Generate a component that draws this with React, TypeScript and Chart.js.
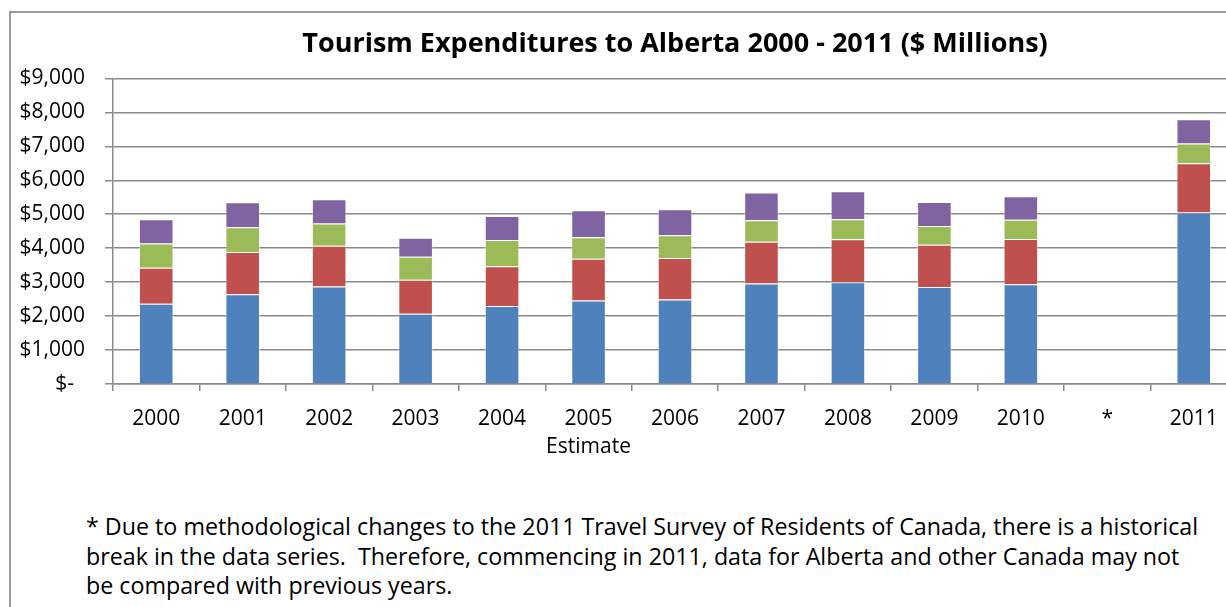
import React, { useEffect, useRef } from 'react';
import { Chart, registerables } from 'chart.js';

Chart.register(...registerables);

const titleText = 'Tourism Expenditures to Alberta 2000 - 2011 ($ Millions)';

const categories: (string | string[])[] = [
  '2000', '2001', '2002', '2003', '2004', ['2005', 'Estimate'], '2006',
  '2007', '2008', '2009', '2010', '*', '2011',
];

const alberta = [2360, 2640, 2870, 2070, 2300, 2460, 2490, 2960, 3000, 2860, 2940, null, 5050];
const otherCanada = [1060, 1250, 1200, 1000, 1170, 1230, 1220, 1230, 1260, 1240, 1330, null, 1450];
const unitedStates = [720, 730, 660, 680, 770, 630, 670, 630, 590, 550, 570, null, 580];
const overseas = [710, 730, 710, 560, 710, 800, 770, 820, 830, 710, 690, null, 720];

const yTickLabels = ['$-  ', '$1,000', '$2,000', '$3,000', '$4,000', '$5,000', '$6,000', '$7,000', '$8,000', '$9,000'];

const footnoteLines = [
  '* Due to methodological changes to the 2011 Travel Survey of Residents of Canada, there is a historical',
  'break in the data series.  Therefore, commencing in 2011, data for Alberta and other Canada may not',
  'be compared with previous years.',
];

const FONT = "'Open Sans', 'DejaVu Sans', sans-serif";

export default function App() {
  const canvasRef = useRef<HTMLCanvasElement | null>(null);

  useEffect(() => {
    if (!canvasRef.current) return;
    const edge = 'rgba(255,255,255,0.45)';
    const chart = new Chart(canvasRef.current, {
      type: 'bar',
      data: {
        labels: categories as any,
        datasets: [
          { label: 'Alberta', data: alberta, backgroundColor: '#4F81BD', borderColor: edge, borderWidth: 1 },
          { label: 'Other Canada', data: otherCanada, backgroundColor: '#C0504D', borderColor: edge, borderWidth: 1 },
          { label: 'United States', data: unitedStates, backgroundColor: '#9BBB59', borderColor: edge, borderWidth: 1 },
          { label: 'Overseas', data: overseas, backgroundColor: '#8064A2', borderColor: edge, borderWidth: 1 },
        ],
      },
      options: {
        animation: false,
        responsive: false,
        maintainAspectRatio: false,
        layout: { padding: { left: 0, right: 63, top: 0, bottom: 0 } },
        datasets: { bar: { barPercentage: 0.4, categoryPercentage: 1 } },
        plugins: {
          legend: { display: false },
          tooltip: { enabled: false },
          title: {
            display: true,
            text: titleText,
            fullSize: false,
            color: '#000',
            font: { family: FONT, size: 27, weight: 'bold', lineHeight: 1.2 },
            padding: { top: 28, bottom: 18 },
          },
        },
        scales: {
          x: {
            stacked: true,
            afterFit: (scale: any) => { scale.height = 86; },
            grid: {
              drawOnChartArea: false,
              drawTicks: true,
              tickLength: 7,
              color: '#8a8a8a',
              lineWidth: 1.5,
              offset: true,
            },
            border: { display: true, color: '#8a8a8a', width: 1.5 },
            ticks: {
              color: '#000',
              font: { family: FONT, size: 21, lineHeight: 1.33 },
              padding: 14,
              maxRotation: 0,
              autoSkip: false,
            },
          },
          y: {
            stacked: true,
            min: 0,
            max: 9000,
            afterFit: (scale: any) => { scale.width = 113; },
            grid: {
              drawOnChartArea: true,
              drawTicks: true,
              tickLength: 8,
              color: '#8a8a8a',
              lineWidth: 1.5,
            },
            border: { display: true, color: '#8a8a8a', width: 1.5 },
            ticks: {
              stepSize: 1000,
              color: '#000',
              font: { family: FONT, size: 21 },
              padding: 20,
              callback: (value: any) => yTickLabels[Math.round(Number(value) / 1000)],
            },
          },
        },
      },
    });
    return () => chart.destroy();
  }, []);

  return (
    <div style={{ position: 'fixed', left: 0, top: 0, width: 1226, height: 607, overflow: 'hidden', background: '#fff' }}>
      <div style={{ position: 'absolute', left: 9, top: 11, width: 1400, height: 800, borderLeft: '2px solid #9a9a9a', borderTop: '2px solid #9a9a9a' }} />
      <canvas ref={canvasRef} width={1300} height={470} style={{ position: 'absolute', left: 0, top: 0, width: 1300, height: 470 }} />
      <div style={{ position: 'absolute', left: 86, top: 512, fontFamily: FONT, fontSize: 23.25, lineHeight: '29.5px', color: '#000', whiteSpace: 'pre' }}>
        {footnoteLines.map((line, i) => (
          <div key={i}>{line}</div>
        ))}
      </div>
    </div>
  );
}
